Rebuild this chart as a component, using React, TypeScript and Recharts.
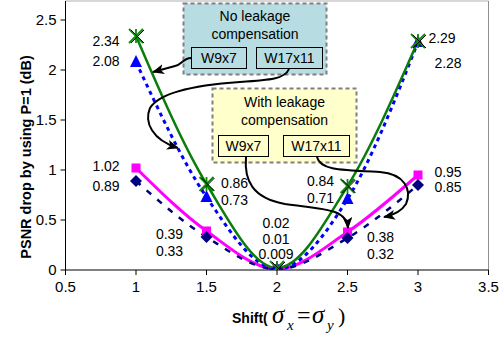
import React from 'react';
import { LineChart, Line, XAxis, YAxis, ReferenceLine } from 'recharts';

const shifts = [1, 1.5, 2, 2.5, 3];
const noLeakW17x11 = [2.34, 0.86, 0.02, 0.84, 2.29];
const noLeakW9x7 = [2.08, 0.73, 0.01, 0.71, 2.28];
const leakW17x11 = [1.02, 0.39, 0.01, 0.38, 0.95];
const leakW9x7 = [0.89, 0.33, 0.009, 0.32, 0.85];
const xTicks = [0.5, 1, 1.5, 2, 2.5, 3, 3.5];
const yTicks = [0, 0.5, 1, 1.5, 2, 2.5];
const yMax = 2.69;

// label placement offsets (dx, dy) relative to each point; null = no label
const offNoLeakW17: (number[] | null)[] = [[-30, 5], [28, -1], [-1, -45], [-27, -5], [24, -3]];
const offNoLeakW9: (number[] | null)[] = [[-30, -1], [28, 3], [-1, -30.5], [-27, -1], [30, 21]];
const offLeakW17: (number[] | null)[] = [[-30, -2], [-37, 3], null, [33, 5], [30, -3]];
const offLeakW9: (number[] | null)[] = [[-30, 5], [-37, 14], [-1, -15], [33, 16], [30, 2]];

const data = shifts.map((x, i) => ({
  x,
  g: noLeakW17x11[i],
  b: noLeakW9x7[i],
  m: leakW17x11[i],
  n: leakW9x7[i],
}));

const FONT = '"Liberation Sans", Arial, sans-serif';
const SERIF = '"Liberation Serif", "Times New Roman", serif';

const makeLabel = (offs: (number[] | null)[]) => (props: any) => {
  const { x, y, index, value } = props;
  const o = offs[index];
  if (!o || x == null || y == null) return <g key={`l${index}`} />;
  return (
    <text key={`l${index}`} x={x + o[0]} y={y + o[1]} textAnchor="middle" dominantBaseline="central"
      fontSize={14} fontFamily={FONT} fill="#000">{String(value)}</text>
  );
};

const StarDot = (props: any) => {
  const { cx, cy, index } = props;
  const r = 7;
  return (
    <g key={`s${index}`}>
      <path d={`M${cx - r},${cy - r}L${cx + r},${cy + r}M${cx - r},${cy + r}L${cx + r},${cy - r}M${cx},${cy - r}L${cx},${cy + r}`}
        stroke="#0b8a0b" strokeWidth={1.8} />
      <path d={`M${cx - r + 2},${cy - r + 1}L${cx + r + 1},${cy + r}M${cx - r + 2},${cy + r}L${cx + r + 1},${cy - r + 1}`}
        stroke="#000" strokeWidth={1} />
    </g>
  );
};
const TriDot = (props: any) => {
  const { cx, cy, index } = props;
  return <path key={`t${index}`} d={`M${cx},${cy - 7}L${cx + 6},${cy + 5}L${cx - 6},${cy + 5}Z`} fill="#0000ff" />;
};
const SqDot = (props: any) => {
  const { cx, cy, index } = props;
  return <rect key={`q${index}`} x={cx - 4.5} y={cy - 4.5} width={9} height={9} fill="#ff00ff" />;
};
const DiaDot = (props: any) => {
  const { cx, cy, index } = props;
  return <path key={`d${index}`} d={`M${cx},${cy - 6}L${cx + 6},${cy}L${cx},${cy + 6}L${cx - 6},${cy}Z`} fill="#000080" />;
};

const tickStyle = { fontSize: 15, fontFamily: FONT, fill: '#000' };

export default function App() {
  return (
    <div style={{ position: 'absolute', left: 0, top: 0, width: 504, height: 337, background: '#fff' }}>
      <LineChart width={504} height={337} data={data} margin={{ top: 1, right: 15.5, left: 0, bottom: 0 }}>
        <XAxis dataKey="x" type="number" domain={[0.5, 3.5]} ticks={xTicks} height={67}
          tick={tickStyle} tickSize={5} tickMargin={6} axisLine={{ stroke: '#000' }} tickLine={{ stroke: '#000' }} />
        <YAxis type="number" domain={[0, yMax]} ticks={yTicks} width={65.5} allowDataOverflow
          tick={tickStyle} tickSize={5} tickMargin={4} axisLine={{ stroke: '#000' }} tickLine={{ stroke: '#000' }} />
        <ReferenceLine y={yMax} stroke="#b0b0b0" />
        <ReferenceLine x={3.5} stroke="#909090" />
        <Line dataKey="m" type="monotone" stroke="#ff00ff" strokeWidth={3} dot={SqDot} label={makeLabel(offLeakW17)} isAnimationActive={false} />
        <Line dataKey="n" type="monotone" stroke="#000080" strokeWidth={2.5} strokeDasharray="6 8" dot={DiaDot} label={makeLabel(offLeakW9)} isAnimationActive={false} />
        <Line dataKey="b" type="monotone" stroke="#0000ff" strokeWidth={3} strokeDasharray="4 4" dot={TriDot} label={makeLabel(offNoLeakW9)} isAnimationActive={false} />
        <Line dataKey="g" type="monotone" stroke="#0b7d0b" strokeWidth={2.5} dot={StarDot} label={makeLabel(offNoLeakW17)} isAnimationActive={false} />
      </LineChart>
      <svg width={504} height={337} style={{ position: 'absolute', left: 0, top: 0, pointerEvents: 'none' }}>
        <defs>
          <marker id="ah" markerUnits="userSpaceOnUse" markerWidth={12} markerHeight={10} refX={11} refY={5} orient="auto">
            <path d="M0,0 L12,5 L0,10 L3,5 Z" fill="#000" />
          </marker>
        </defs>
        {/* y axis label */}
        <text transform="translate(31,157) rotate(-90)" textAnchor="middle" fontSize={14.5} fontWeight="bold" fontFamily={FONT} fill="#000">
          PSNR drop by using P=1 (dB)
        </text>
        {/* x axis label */}
        <text x={232} y={323} fontSize={14} fontWeight="bold" fontFamily={FONT} fill="#000">Shift(</text>
        <text x={272} y={323} fontSize={25} fontStyle="italic" fontFamily={SERIF} fill="#000">σ</text>
        <text x={287} y={330} fontSize={15} fontStyle="italic" fontFamily={SERIF} fill="#000">x</text>
        <text x={297} y={323} fontSize={24} fontFamily={SERIF} fill="#000">=</text>
        <text x={312} y={323} fontSize={25} fontStyle="italic" fontFamily={SERIF} fill="#000">σ</text>
        <text x={327} y={330} fontSize={15} fontStyle="italic" fontFamily={SERIF} fill="#000">y</text>
        <text x={338} y={323} fontSize={22} fontFamily={SERIF} fill="#000">)</text>

        {/* No leakage box */}
        <rect x={183.5} y={3.5} width={143} height={71} fill="#b7dde2" stroke="#808080" strokeWidth={2} strokeDasharray="4 3" />
        <text x={255} y={21} textAnchor="middle" fontSize={14} fontFamily={FONT} fill="#000">No leakage</text>
        <text x={255} y={39} textAnchor="middle" fontSize={14} fontFamily={FONT} fill="#000">compensation</text>
        <rect x={191.5} y={47.5} width={55} height={21} fill="#b7dde2" stroke="#000" strokeWidth={1} />
        <text x={219} y={63} textAnchor="middle" fontSize={14} fontFamily={FONT} fill="#000">W9x7</text>
        <rect x={256.5} y={47.5} width={66} height={21} fill="#b7dde2" stroke="#000" strokeWidth={1} />
        <text x={289.5} y={63} textAnchor="middle" fontSize={14} fontFamily={FONT} fill="#000">W17x11</text>

        {/* With leakage box */}
        <rect x={212.5} y={88.5} width={144} height={74} fill="#ffffcc" stroke="#808080" strokeWidth={2} strokeDasharray="4 3" />
        <text x={284.5} y={107} textAnchor="middle" fontSize={14} fontFamily={FONT} fill="#000">With leakage</text>
        <text x={284.5} y={125} textAnchor="middle" fontSize={14} fontFamily={FONT} fill="#000">compensation</text>
        <rect x={218.5} y={135.5} width={50} height={21} fill="#ffffcc" stroke="#000" strokeWidth={1} />
        <text x={243.5} y={151} textAnchor="middle" fontSize={14} fontFamily={FONT} fill="#000">W9x7</text>
        <rect x={283.5} y={135.5} width={66} height={21} fill="#ffffcc" stroke="#000" strokeWidth={1} />
        <text x={316.5} y={151} textAnchor="middle" fontSize={14} fontFamily={FONT} fill="#000">W17x11</text>

        {/* arrows */}
        <path d="M191 58 C 183 58, 182 65, 175 66 L 153 72" fill="none" stroke="#000" strokeWidth={2} markerEnd="url(#ah)" />
        <path d="M289 69 C 285 79, 270 80, 240 82 C 195 85, 160 92, 150 108 C 144 122, 152 140, 178 148" fill="none" stroke="#000" strokeWidth={2} markerEnd="url(#ah)" />
        <path d="M246 157 C 244 180, 252 198, 285 204 C 320 209, 347 208, 348 228" fill="none" stroke="#000" strokeWidth={2} markerEnd="url(#ah)" />
        <path d="M317 157 C 320 170, 340 170, 380 172 C 405 174, 412 190, 406 204 C 401 212, 394 215, 384 217" fill="none" stroke="#000" strokeWidth={2} markerEnd="url(#ah)" />
      </svg>
    </div>
  );
}
